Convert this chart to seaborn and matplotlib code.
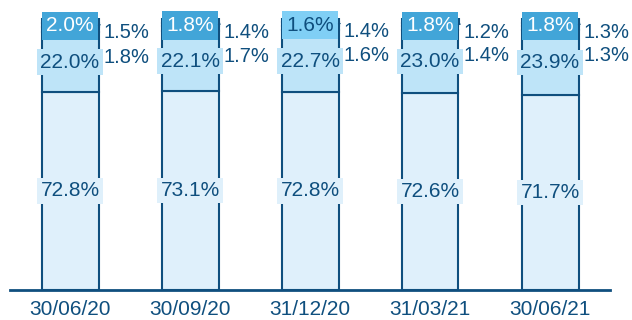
import matplotlib
matplotlib.use("Agg")
import matplotlib.pyplot as plt
import seaborn as sns
import numpy as np

# Quarter-end dates and portfolio composition shares (%)
dates = ["30/06/20", "30/09/20", "31/12/20", "31/03/21", "30/06/21"]
share_a = [72.8, 73.1, 72.8, 72.6, 71.7]
share_b = [22.0, 22.1, 22.7, 23.0, 23.9]
share_c = [1.8, 1.7, 1.6, 1.4, 1.3]
share_d = [1.5, 1.4, 1.4, 1.2, 1.3]
share_e = [2.0, 1.8, 1.6, 1.8, 1.8]

NAVY = "#0f4f7e"
C_A = "#dff0fb"
C_B = "#bee4f8"
C_C = "#9fd6f4"
C_D = "#7fcdf3"
top_colors = ["#42a5d8", "#42a5d8", "#80cff5", "#42a5d8", "#42a5d8"]
top_text = ["white", "white", NAVY, "white", "white"]

sns.set_theme(style="white")
plt.rcParams["font.family"] = ["Liberation Sans", "DejaVu Sans"]

fig = plt.figure(figsize=(6.32, 3.2), dpi=100)
ax = fig.add_axes([10 / 632, 30 / 320, 600 / 632, 272 / 320])

series = [share_a, share_b, share_c, share_d, share_e]
colors = [C_A, C_B, C_C, C_D, None]
bottom = np.zeros(len(dates))
bar_w = 0.475
for k, vals in enumerate(series):
    vals = np.array(vals)
    if colors[k] is None:
        for i in range(len(dates)):
            ax.bar(i, vals[i], bottom=bottom[i], width=bar_w, color=top_colors[i],
                   edgecolor=NAVY, linewidth=1.5, zorder=2)
    else:
        sns.barplot(x=dates, y=vals, bottom=bottom, color=colors[k], width=bar_w,
                    edgecolor=NAVY, linewidth=1.5, saturation=1, ax=ax, zorder=2)
    bottom = bottom + vals

fs = 15
fs_out = 14.5
for i in range(len(dates)):
    a, b, c, d, e = share_a[i], share_b[i], share_c[i], share_d[i], share_e[i]
    ya = a / 2
    yb = a + b / 2
    yc = a + b + c / 2
    yd = a + b + c + d / 2
    ye = a + b + c + d + e / 2
    ax.annotate(f"{a:.1f}%", (i, ya), ha="center", va="center", fontsize=fs, color=NAVY,
                bbox=dict(boxstyle="square,pad=0.15", fc=C_A, ec="none"), zorder=5)
    ax.annotate(f"{b:.1f}%", (i, yb), ha="center", va="center", fontsize=fs, color=NAVY,
                bbox=dict(boxstyle="square,pad=0.15", fc=C_B, ec="none"), zorder=5)
    ax.annotate(f"{e:.1f}%", (i, ye), xytext=(0, -3.8), textcoords="offset points",
                ha="center", va="center", fontsize=fs, color=top_text[i],
                bbox=dict(boxstyle="square,pad=0.22", fc=top_colors[i], ec="none"), zorder=5)
    ax.annotate(f"{d:.1f}%", (i + bar_w / 2, yd), xytext=(3.5, -5.4), textcoords="offset points",
                ha="left", va="center", fontsize=fs_out, color=NAVY, zorder=5,
                arrowprops=dict(arrowstyle="-", color=NAVY, lw=1, shrinkA=0, shrinkB=0,
                                connectionstyle="arc3,rad=0.3"))
    ax.annotate(f"{c:.1f}%", (i + bar_w / 2, yc), xytext=(3.5, -20), textcoords="offset points",
                ha="left", va="center", fontsize=fs_out, color=NAVY, zorder=5)

ax.set_xlim(-0.5, len(dates) - 0.5)
ax.set_ylim(0, 100)
ax.set_yticks([])
ax.set_ylabel("")
ax.set_xlabel("")
ax.tick_params(axis="x", length=0, pad=7, labelsize=fs, labelcolor=NAVY)
for s in ["top", "right", "left"]:
    ax.spines[s].set_visible(False)
ax.spines["bottom"].set_color(NAVY)
ax.spines["bottom"].set_linewidth(2)
ax.spines["bottom"].set_zorder(6)
ax.patch.set_alpha(0)

fig.savefig("out.png", dpi=100)
